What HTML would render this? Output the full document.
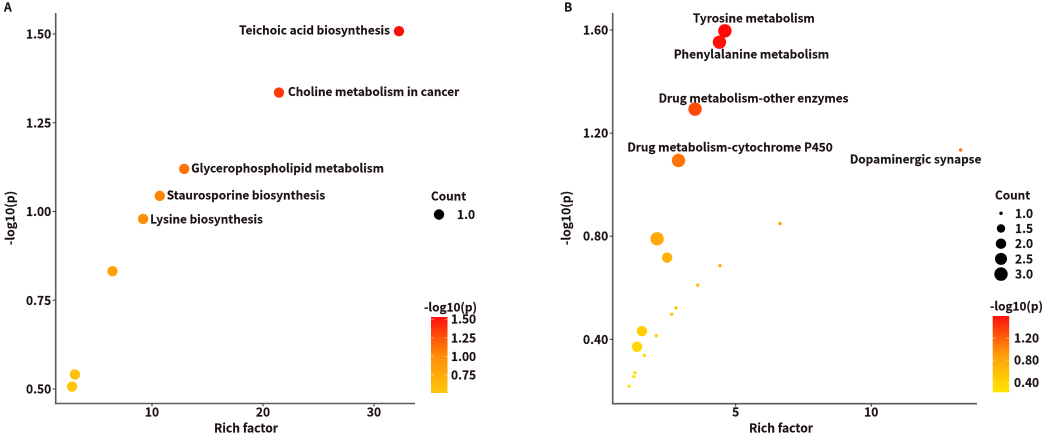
<!DOCTYPE html>
<html lang="en">
<head>
<meta charset="utf-8">
<title>Rich factor bubble charts</title>
<style>
html,body{margin:0;padding:0;background:#fff;width:1045px;height:435px;overflow:hidden}
svg{display:block}
text{font-family:"Noto Sans CJK SC","Liberation Sans",sans-serif;font-weight:700;fill:#1c1216;stroke:#1c1216;stroke-width:0.15}
</style>
</head>
<body>
<svg id="chart" xmlns="http://www.w3.org/2000/svg" width="1045" height="435" viewBox="0 0 1045 435">
<defs>
<linearGradient id="gradA" x1="0" y1="1" x2="0" y2="0">
<stop offset="0" stop-color="#ffc60c"/><stop offset="0.5" stop-color="#ff8c06"/><stop offset="1" stop-color="#ff0f0f"/>
</linearGradient>
<linearGradient id="gradB" x1="0" y1="1" x2="0" y2="0">
<stop offset="0" stop-color="#ffe600"/><stop offset="0.5" stop-color="#ff9c08"/><stop offset="1" stop-color="#ff0f0f"/>
</linearGradient>
</defs>
</svg>
<script>
// Panel A data
const richA = [32.25, 21.44, 12.9, 10.7, 9.2, 6.44, 3.06, 2.8];
const pA = [1.508, 1.335, 1.12, 1.044, 0.979, 0.832, 0.541, 0.507];
const countA = [1, 1, 1, 1, 1, 1, 1, 1];
const namesA = ["Teichoic acid biosynthesis", "Choline metabolism in cancer", "Glycerophospholipid metabolism", "Staurosporine biosynthesis", "Lysine biosynthesis", "", "", ""];
const xTicksA = [10, 20, 30];
const yTicksA = ["0.50", "0.75", "1.00", "1.25", "1.50"];
const colorTicksA = ["0.75", "1.00", "1.25", "1.50"];
const sizeKeysA = ["1.0"];

// Panel B data
const richB = [4.6, 4.4, 3.5, 2.89, 13.3, 6.63, 2.1, 2.47, 4.42, 3.6, 2.8, 2.64, 2.07, 1.54, 1.36, 1.63, 1.28, 1.24, 1.07];
const pB = [1.597, 1.553, 1.293, 1.094, 1.135, 0.849, 0.79, 0.717, 0.686, 0.61, 0.522, 0.497, 0.414, 0.432, 0.371, 0.338, 0.27, 0.255, 0.218];
const countB = [3, 3, 3, 3, 1, 1, 3, 2, 1, 1, 1, 1, 1, 2, 2, 1, 1, 1, 1];
const namesB = ["Tyrosine metabolism", "Phenylalanine metabolism", "Drug metabolism-other enzymes", "Drug metabolism-cytochrome P450", "Dopaminergic synapse", "", "", "", "", "", "", "", "", "", "", "", "", "", ""];
const xTicksB = [5, 10];
const yTicksB = ["0.40", "0.80", "1.20", "1.60"];
const colorTicksB = ["0.40", "0.80", "1.20"];
const sizeKeysB = ["1.0", "1.5", "2.0", "2.5", "3.0"];

// Layout
const svg = document.getElementById('chart');
const NS = 'http://www.w3.org/2000/svg';
function mk(tag, attrs, parent, text) {
  const e = document.createElementNS(NS, tag);
  for (const k in attrs) e.setAttribute(k, attrs[k]);
  if (text !== undefined) e.textContent = text;
  parent.appendChild(e);
  return e;
}
function label(parent, name, x, y, str, size, anchor, rot) {
  const attrs = {x: x, y: y, 'font-size': size, 'text-anchor': anchor || 'start', 'dominant-baseline': 'central'};
  if (rot) attrs.transform = 'rotate(-90 ' + x + ' ' + y + ')';
  const t = mk('text', attrs, parent, str);
  
  
  return t;
}
function hex(c) { return [1, 3, 5].map(i => parseInt(c.substr(i, 2), 16)); }
function ramp(stops, t) {
  t = Math.max(0, Math.min(1, t));
  const s = t * (stops.length - 1), i = Math.min(Math.floor(s), stops.length - 2), f = s - i;
  const a = hex(stops[i]), b = hex(stops[i + 1]);
  return 'rgb(' + a.map((v, j) => Math.round(v + (b[j] - v) * f)).join(',') + ')';
}

function panel(cfg) {
  const g = mk('g', {}, svg);
  
  
  const sx = v => cfg.x0 + (v - cfg.xv0) * cfg.xs;
  const sy = v => cfg.y0 - (v - cfg.yv0) * cfg.ys;
  const AX = '#5a5a5a';

  const yAxis = mk('line', {x1: cfg.left, x2: cfg.left, y1: 13, y2: cfg.bottom + 0.8, stroke: AX, 'stroke-width': 1.6}, g);
  
  
  const xAxis = mk('line', {x1: cfg.left - 0.8, x2: cfg.right, y1: cfg.bottom, y2: cfg.bottom, stroke: AX, 'stroke-width': 1.6}, g);
  
  

  cfg.xTicks.forEach(v => {
    const tick = mk('line', {x1: sx(v), x2: sx(v), y1: cfg.bottom, y2: cfg.bottom + 3, stroke: '#333', 'stroke-width': 1}, g);
    
    
    label(g, 'x-tick-label', sx(v), 412, String(v), 12, 'middle');
  });
  cfg.yTicks.forEach(v => {
    const tick = mk('line', {x1: cfg.left - 3, x2: cfg.left, y1: sy(+v), y2: sy(+v), stroke: '#333', 'stroke-width': 1}, g);
    
    
    label(g, 'y-tick-label', cfg.left - 4.5, sy(+v), v, 12, 'end');
  });
  label(g, 'x-axis-title', cfg.xTitleX, 428, 'Rich factor', 12.1, 'middle');
  label(g, 'y-axis-title', cfg.yTitleX, 218, '-log10(p)', 12.1, 'middle', true);
  label(g, 'panel-letter', cfg.letterX, 7, cfg.letter, 12, 'start');

  // Points
  cfg.rich.forEach((r, i) => {
    const c = mk('circle', {
      cx: sx(r), cy: sy(cfg.p[i]), r: cfg.radius(cfg.count[i]),
      fill: ramp(cfg.stops, (cfg.p[i] - cfg.pMin) / (cfg.pMax - cfg.pMin))
    }, g);
    
    
    if (cfg.names[i]) {
      label(g, 'pathway-label', sx(r) + cfg.labelDx[i], sy(cfg.p[i]) + cfg.labelDy[i], cfg.names[i], 11.8, cfg.labelAnchor[i]);
    }
  });

  // Size legend
  label(g, 'size-legend-title', cfg.cTitleX, cfg.cTitleY, 'Count', 11.8, 'start');
  cfg.sizeKeys.forEach((k, i) => {
    const y = cfg.sizeY + i * cfg.sizeStep;
    const c = mk('circle', {cx: cfg.sizeX, cy: y, r: cfg.radius(+k), fill: '#000'}, g);
    
    
    label(g, 'size-legend-label', cfg.sizeLabelX, y, k, 12, 'start');
  });

  // Colour legend
  label(g, 'color-legend-title', cfg.gTitleX, cfg.gTitleY, '-log10(p)', 11.8, 'start');
  const bar = mk('rect', {x: cfg.barX, y: cfg.barTop, width: 16.5, height: cfg.barBottom - cfg.barTop, fill: 'url(#' + cfg.grad + ')'}, g);
  
  
  cfg.colorTicks.forEach(v => {
    const y = cfg.barBottom - (+v - cfg.pMin) / (cfg.pMax - cfg.pMin) * (cfg.barBottom - cfg.barTop);
    [[cfg.barX, cfg.barX + 3], [cfg.barX + 13.5, cfg.barX + 16.5]].forEach(p => {
      const tk = mk('line', {x1: p[0], x2: p[1], y1: y, y2: y, stroke: '#fff', 'stroke-opacity': 0.55, 'stroke-width': 0.7}, g);
      
      
    });
    label(g, 'color-legend-label', cfg.barLabelX, y, v, 12, 'start');
  });
}

panel({
  id: 'a', letter: 'A', letterX: 4, left: 55.7, right: 415, bottom: 403.5,
  x0: 152, xv0: 10, xs: 11.1, y0: 389, yv0: 0.5, ys: 355,
  rich: richA, p: pA, count: countA, names: namesA,
  xTicks: xTicksA, yTicks: yTicksA, colorTicks: colorTicksA, sizeKeys: sizeKeysA,
  labelDx: [-9, 9, 7, 7, 7, 0, 0, 0], labelDy: [-1, -1, -1, -1, 0, 0, 0, 0],
  labelAnchor: ['end', 'start', 'start', 'start', 'start', 'start', 'start', 'start'],
  radius: () => 5.2, stops: ['#ffc60c', '#ff8c06', '#ff0808'], pMin: 0.507, pMax: 1.53,
  xTitleX: 246, yTitleX: 10, cTitleX: 431, cTitleY: 196,
  sizeX: 439, sizeY: 214.5, sizeStep: 15, sizeLabelX: 457,
  gTitleX: 424, gTitleY: 307, grad: 'gradA', barX: 431, barTop: 317, barBottom: 393, barLabelX: 451
});
panel({
  id: 'b', letter: 'B', letterX: 564, left: 612.7, right: 977, bottom: 403.7,
  x0: 735.7, xv0: 5, xs: 27.1, y0: 339.3, yv0: 0.4, ys: 257.7,
  rich: richB, p: pB, count: countB, names: namesB,
  xTicks: xTicksB, yTicks: yTicksB, colorTicks: colorTicksB, sizeKeys: sizeKeysB,
  labelDx: [29, 32, 58.5, 51.5, -45, 0, 0, 0, 0, 0, 0, 0, 0, 0, 0, 0, 0, 0, 0],
  labelDy: [-13, 12, -11, -13.5, 9, 0, 0, 0, 0, 0, 0, 0, 0, 0, 0, 0, 0, 0, 0],
  labelAnchor: ['middle', 'middle', 'middle', 'middle', 'middle', 'start', 'start', 'start', 'start', 'start', 'start', 'start', 'start', 'start', 'start', 'start', 'start', 'start', 'start'],
  radius: c => 1.7 + Math.sqrt((c - 1) / 2) * 5, stops: ['#ffe600', '#ff9c08', '#ff0808'], pMin: 0.218, pMax: 1.6,
  xTitleX: 781, yTitleX: 566, cTitleX: 995, cTitleY: 195,
  sizeX: 1001, sizeY: 213.3, sizeStep: 15.2, sizeLabelX: 1015,
  gTitleX: 990, gTitleY: 306, grad: 'gradB', barX: 992.7, barTop: 316, barBottom: 392.3, barLabelX: 1014
});
</script>
</body>
</html>
